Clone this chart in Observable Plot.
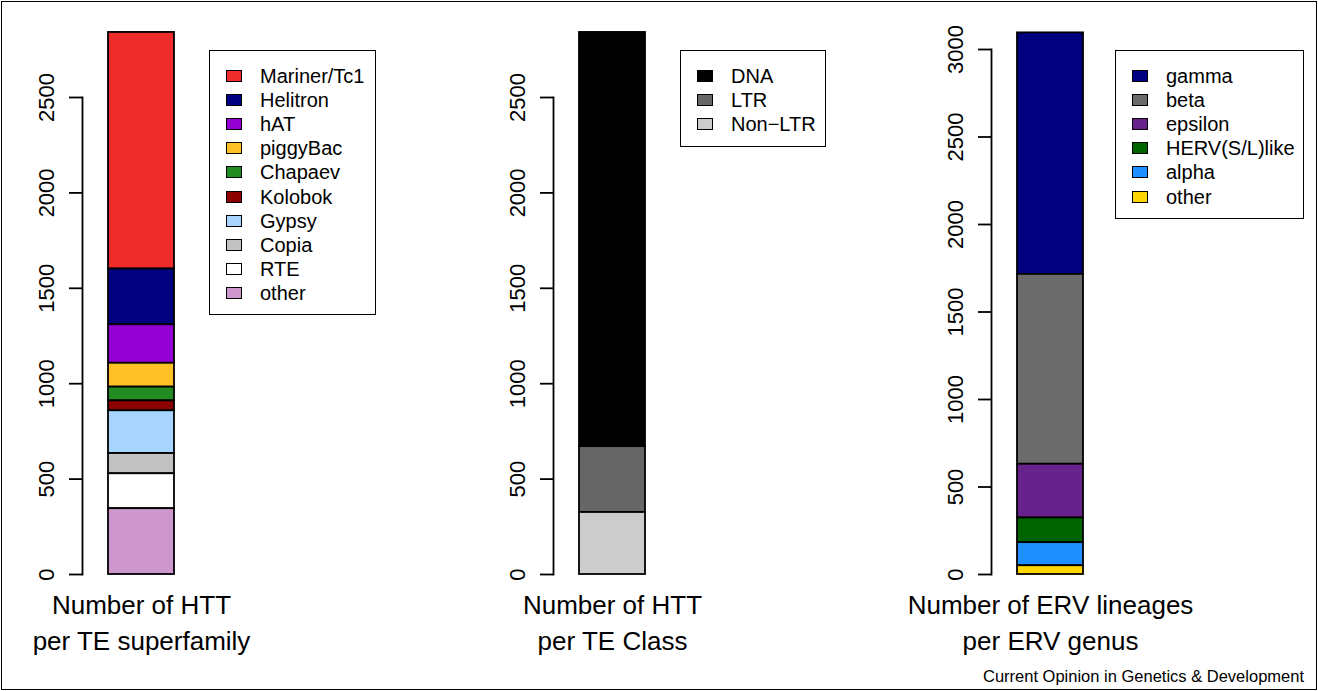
<!DOCTYPE html>
<html><head><meta charset="utf-8">
<script src="https://cdn.jsdelivr.net/npm/d3@7"></script>
<script src="https://cdn.jsdelivr.net/npm/@observablehq/plot@0.6"></script>
<style>
body{margin:0;background:#fff;font-family:"Liberation Sans",Arial,Helvetica,sans-serif;}
#wrap{position:relative;width:1318px;height:691px;overflow:hidden;background:#fff;}
#border{position:absolute;left:1px;top:1px;width:1314px;height:687px;border:1px solid #000;}
.panel{position:absolute;top:0;}
.panel svg{background:transparent;overflow:visible;}
.legend{position:absolute;border:1.5px solid #000;background:#fff;box-sizing:border-box;}
.sw{position:absolute;width:16px;height:12px;border:1.5px solid #000;box-sizing:border-box;}
.lt{position:absolute;font-size:20px;line-height:20px;white-space:nowrap;color:#000;}
#caption{position:absolute;right:14px;top:667px;font-size:16.5px;line-height:18px;color:#000;white-space:nowrap;}
</style></head>
<body>
<div id="wrap"><div id="border"></div></div>
<script>
// Panel 1: HTT per TE superfamily (legend order, top of stack first)
const sfNames = ["Mariner/Tc1","Helitron","hAT","piggyBac","Chapaev","Kolobok","Gypsy","Copia","RTE","other"];
const sfCounts = [1240, 292, 202, 125, 72, 52, 224, 106, 183, 345];
const sfColors = ["#EE2C2C","#000080","#9400D3","#FFC125","#228B22","#8B0000","#A8D5FF","#C2C2C2","#FFFFFF","#CD96CD"];
const sfLabel = "Number of HTT\nper TE superfamily";

// Panel 2: HTT per TE class
const clNames = ["DNA","LTR","Non\u2212LTR"];
const clCounts = [2171, 345, 325];
const clColors = ["#000000","#666666","#CCCCCC"];
const clLabel = "Number of HTT\nper TE Class";

// Panel 3: ERV lineages per ERV genus
const gnNames = ["gamma","beta","epsilon","HERV(S/L)like","alpha","other"];
const gnCounts = [1380, 1085, 307, 141, 132, 50];
const gnColors = ["#000080","#6B6B6B","#68228B","#006400","#1E90FF","#FFD700"];
const gnLabel = "Number of ERV lineages\nper ERV genus";

const ticks1 = [0, 500, 1000, 1500, 2000, 2500];
const ticks3 = [0, 500, 1000, 1500, 2000, 2500, 3000];

const FONT = '"Liberation Sans", Arial, Helvetica, sans-serif';
const wrap = document.getElementById("wrap");

function panel(names, counts, colors, label, yMax, ticks, marginTop, left) {
  const rows = names.map((n, i) => ({group: label, name: n, count: counts[i]}));
  const plot = Plot.plot({
    width: 438, height: 691,
    marginLeft: 160, marginRight: 160, marginTop, marginBottom: 117,
    style: {background: "transparent", fontFamily: FONT, color: "#000", overflow: "visible"},
    x: {type: "band", domain: [label], padding: 0, axis: null},
    y: {domain: [0, yMax], nice: false, axis: null},
    color: {domain: names, range: colors},
    marks: [
      Plot.barY(rows, {x: "group", y: "count", z: "name", fill: "name", stroke: "#000", strokeWidth: 1.8,
        insetLeft: 26, insetRight: 26, order: names.slice().reverse()}),
      Plot.frame({anchor: "left", stroke: "#000", strokeWidth: 1.8}),
      Plot.axisY({ticks, tickFormat: d => String(d), tickSize: 13, tickRotate: -90, tickPadding: 16,
        fontSize: 22, label: null, stroke: "#000", strokeWidth: 1.8}),
      Plot.axisX({tickSize: 0, tickPadding: 14, fontSize: 26, lineHeight: 1.385, label: null})
    ]
  });
  const d = document.createElement("div");
  d.className = "panel";
  d.style.left = left + "px";
  d.appendChild(plot);
  wrap.appendChild(d);
}

function legend(names, colors, box) {
  const lg = document.createElement("div");
  lg.className = "legend";
  Object.assign(lg.style, {left: box.left + "px", top: box.top + "px", width: box.width + "px", height: box.height + "px"});
  names.forEach((n, i) => {
    const cy = 24.5 + i * 24.2;
    const sw = document.createElement("div");
    sw.className = "sw";
    Object.assign(sw.style, {left: "16px", top: (cy - 6) + "px", background: colors[i]});
    const t = document.createElement("div");
    t.className = "lt";
    Object.assign(t.style, {left: "50px", top: (cy - 10) + "px"});
    t.textContent = n;
    lg.appendChild(sw); lg.appendChild(t);
  });
  wrap.appendChild(lg);
}

panel(sfNames, sfCounts, sfColors, sfLabel, 2500, ticks1, 97, -78);
panel(clNames, clCounts, clColors, clLabel, 2500, ticks1, 97, 393);
panel(gnNames, gnCounts, gnColors, gnLabel, 3000, ticks3, 49, 831);

legend(sfNames, sfColors, {left: 209, top: 50, width: 167, height: 265});
legend(clNames, clColors, {left: 680, top: 50, width: 146, height: 97});
legend(gnNames, gnColors, {left: 1115, top: 50, width: 189, height: 169});

const cap = document.createElement("div");
cap.id = "caption";
cap.textContent = "Current Opinion in Genetics & Development";
wrap.appendChild(cap);
</script>
</body></html>
